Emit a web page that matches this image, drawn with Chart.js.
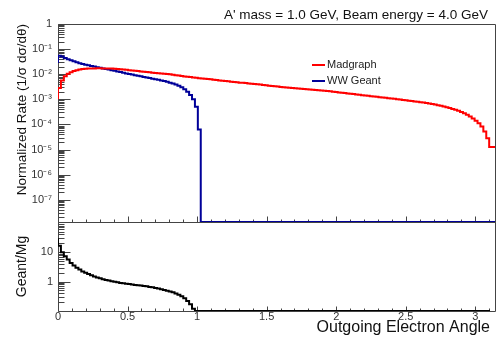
<!DOCTYPE html>
<html>
<head>
<meta charset="utf-8">
<script src="https://cdn.jsdelivr.net/npm/chart.js@4/dist/chart.umd.min.js"></script>
<style>
html,body{margin:0;padding:0;background:#fff;}
#wrap{position:relative;width:501px;height:339px;overflow:hidden;background:#fff;}
#c1{position:absolute;left:0;top:0;}
#c2{position:absolute;left:0;top:212px;}
</style>
</head>
<body>
<div id="wrap">
<canvas id="c1" width="501" height="226" style="width:501px;height:226px"></canvas>
<canvas id="c2" width="501" height="127" style="width:501px;height:127px"></canvas>
</div>
<script>
// ---------------- data ----------------
const titleText = "A' mass = 1.0 GeV, Beam energy = 4.0 GeV";
const seriesLabels = ['Madgraph', 'WW Geant'];
const angleMax = Math.PI;   // histogram range 0..pi, 150 bins

const madgraph = [
  1.00e-3, 2.82e-3, 5.62e-3, 8.32e-3, 1.05e-2, 1.20e-2, 1.35e-2, 1.45e-2, 1.55e-2, 1.62e-2,
  1.66e-2, 1.68e-2, 1.70e-2, 1.70e-2, 1.72e-2, 1.72e-2, 1.70e-2, 1.70e-2, 1.70e-2, 1.68e-2,
  1.64e-2, 1.62e-2, 1.58e-2, 1.55e-2, 1.50e-2, 1.45e-2, 1.41e-2, 1.36e-2, 1.33e-2, 1.29e-2,
  1.26e-2, 1.23e-2, 1.19e-2, 1.15e-2, 1.12e-2, 1.10e-2, 1.07e-2, 1.05e-2, 1.02e-2, 1.00e-2,
  9.55e-3, 9.12e-3, 8.81e-3, 8.51e-3, 8.13e-3, 7.94e-3, 7.67e-3, 7.41e-3, 7.16e-3, 6.92e-3,
  6.76e-3, 6.61e-3, 6.46e-3, 6.24e-3, 6.03e-3, 5.82e-3, 5.62e-3, 5.50e-3, 5.31e-3, 5.19e-3,
  5.01e-3, 4.90e-3, 4.79e-3, 4.62e-3, 4.52e-3, 4.42e-3, 4.27e-3, 4.17e-3, 4.07e-3, 3.94e-3,
  3.85e-3, 3.72e-3, 3.63e-3, 3.51e-3, 3.43e-3, 3.31e-3, 3.24e-3, 3.13e-3, 3.05e-3, 2.95e-3,
  2.88e-3, 2.82e-3, 2.75e-3, 2.69e-3, 2.63e-3, 2.57e-3, 2.51e-3, 2.45e-3, 2.40e-3, 2.34e-3,
  2.29e-3, 2.24e-3, 2.19e-3, 2.14e-3, 2.09e-3, 2.02e-3, 1.95e-3, 1.88e-3, 1.82e-3, 1.78e-3,
  1.72e-3, 1.66e-3, 1.62e-3, 1.57e-3, 1.51e-3, 1.46e-3, 1.41e-3, 1.38e-3, 1.33e-3, 1.29e-3,
  1.26e-3, 1.22e-3, 1.17e-3, 1.15e-3, 1.11e-3, 1.07e-3, 1.05e-3, 1.01e-3, 9.77e-4, 9.44e-4,
  9.12e-4, 8.81e-4, 8.51e-4, 8.22e-4, 7.94e-4, 7.67e-4, 7.41e-4, 7.08e-4, 6.76e-4, 6.46e-4,
  6.17e-4, 5.82e-4, 5.50e-4, 5.13e-4, 4.79e-4, 4.47e-4, 4.12e-4, 3.80e-4, 3.47e-4, 3.16e-4,
  2.82e-4, 2.45e-4, 2.09e-4, 1.74e-4, 1.41e-4, 1.12e-4, 8.32e-5, 5.25e-5, 2.82e-5, 1.26e-5
];

const wwGeant = [
  2.82e-2, 5.50e-2, 5.13e-2, 4.47e-2, 3.98e-2, 3.63e-2, 3.31e-2, 3.02e-2, 2.75e-2, 2.57e-2,
  2.40e-2, 2.26e-2, 2.14e-2, 2.02e-2, 1.91e-2, 1.80e-2, 1.70e-2, 1.62e-2, 1.53e-2, 1.45e-2,
  1.36e-2, 1.29e-2, 1.22e-2, 1.15e-2, 1.08e-2, 1.02e-2, 9.66e-3, 9.12e-3, 8.61e-3, 8.22e-3,
  7.76e-3, 7.41e-3, 7.00e-3, 6.61e-3, 6.31e-3, 5.96e-3, 5.62e-3, 5.31e-3, 5.01e-3, 4.62e-3,
  4.27e-3, 3.89e-3, 3.47e-3, 3.02e-3, 2.51e-3, 2.00e-3, 1.48e-3, 1.00e-3, 5.01e-4, 6.31e-5,
  0, 0, 0, 0, 0, 0, 0, 0, 0, 0,
  0, 0, 0, 0, 0, 0, 0, 0, 0, 0,
  0, 0, 0, 0, 0, 0, 0, 0, 0, 0,
  0, 0, 0, 0, 0, 0, 0, 0, 0, 0,
  0, 0, 0, 0, 0, 0, 0, 0, 0, 0,
  0, 0, 0, 0, 0, 0, 0, 0, 0, 0,
  0, 0, 0, 0, 0, 0, 0, 0, 0, 0,
  0, 0, 0, 0, 0, 0, 0, 0, 0, 0,
  0, 0, 0, 0, 0, 0, 0, 0, 0, 0,
  0, 0, 0, 0, 0, 0, 0, 0, 0, 0
];

const geantOverMg = [
  30, 16.5, 10, 7.2, 5.6, 4.3, 3.5, 2.95, 2.55, 2.2,
  2.0, 1.8, 1.63, 1.5, 1.38, 1.3, 1.2, 1.14, 1.08, 1.02,
  0.98, 0.94, 0.9, 0.87, 0.84, 0.82, 0.8, 0.77, 0.75, 0.73,
  0.71, 0.69, 0.66, 0.64, 0.61, 0.58, 0.55, 0.52, 0.49, 0.46,
  0.43, 0.39, 0.36, 0.32, 0.27, 0.22, 0.17, 0.12, 0.07, 0.01,
  0, 0, 0, 0, 0, 0, 0, 0, 0, 0,
  0, 0, 0, 0, 0, 0, 0, 0, 0, 0,
  0, 0, 0, 0, 0, 0, 0, 0, 0, 0,
  0, 0, 0, 0, 0, 0, 0, 0, 0, 0,
  0, 0, 0, 0, 0, 0, 0, 0, 0, 0,
  0, 0, 0, 0, 0, 0, 0, 0, 0, 0,
  0, 0, 0, 0, 0, 0, 0, 0, 0, 0,
  0, 0, 0, 0, 0, 0, 0, 0, 0, 0,
  0, 0, 0, 0, 0, 0, 0, 0, 0, 0,
  0, 0, 0, 0, 0, 0, 0, 0, 0, 0
];

const xTickValues = [0, 0.5, 1, 1.5, 2, 2.5, 3];
const xTickLabels = ['0', '0.5', '1', '1.5', '2', '2.5', '3'];
const xMinorValues = [0.1,0.2,0.3,0.4,0.6,0.7,0.8,0.9,1.1,1.2,1.3,1.4,1.6,1.7,1.8,1.9,2.1,2.2,2.3,2.4,2.6,2.7,2.8,2.9,3.1];

const yTopTickValues = [1e-7, 1e-6, 1e-5, 1e-4, 1e-3, 1e-2, 1e-1, 1];
const yTopTickLabels = ['10\u207B\u2077', '10\u207B\u2076', '10\u207B\u2075', '10\u207B\u2074', '10\u207B\u00B3', '10\u207B\u00B2', '10\u207B\u00B9', '1'];
const yTopMin = 1.3e-8, yTopMax = 1;

const yBotTickValues = [1, 10];
const yBotTickLabels = ['1', '10'];
const yBotMin = 0.1, yBotMax = 106;

// ---------------- helpers ----------------
const FONT = '"Liberation Sans", Arial, Helvetica, sans-serif';
Chart.defaults.font.family = FONT;
Chart.defaults.color = '#333';

function histPoints(values, floor) {
  const w = angleMax / values.length;
  const pts = values.map((v, i) => ({ x: i * w, y: Math.max(v, floor) }));
  pts.push({ x: angleMax, y: Math.max(values[values.length - 1], floor) });
  return pts;
}
function logMinors(min, max) {
  const out = [];
  for (let e = -9; e <= 3; e++) {
    for (let m = 2; m <= 9; m++) {
      const v = m * Math.pow(10, e);
      if (v >= min && v <= max) out.push(v);
    }
  }
  return out;
}

const frameTicks = {
  id: 'frameTicks',
  beforeDatasetsDraw(chart, args, o) {
    const { ctx, chartArea: a } = chart;
    const xs = chart.scales.x, ys = chart.scales.y;
    const L = Math.floor(a.left) + 0.5, R = Math.floor(a.right) + 0.5;
    const T = Math.floor(a.top) + 0.5, B = Math.floor(a.bottom) + 0.5;
    ctx.save();
    ctx.strokeStyle = o.color;
    ctx.lineWidth = 1;
    ctx.beginPath();
    ctx.moveTo(L, T); ctx.lineTo(R, T); ctx.lineTo(R, B); ctx.lineTo(L, B); ctx.closePath();
    const yTick = (v, len) => { const p = Math.round(ys.getPixelForValue(v)) + 0.5; ctx.moveTo(L, p); ctx.lineTo(L + len, p); };
    const xTick = (v, len) => { const p = Math.round(xs.getPixelForValue(v)) + 0.5; ctx.moveTo(p, B); ctx.lineTo(p, B - len); };
    o.yMajor.forEach(v => yTick(v, o.yMajorLen));
    o.yMinor.forEach(v => yTick(v, o.yMinorLen));
    o.xMajor.forEach(v => xTick(v, o.xMajorLen));
    o.xMinor.forEach(v => xTick(v, o.xMinorLen));
    ctx.stroke();
    ctx.restore();
  }
};

const rootLegend = {
  id: 'rootLegend',
  afterDatasetsDraw(chart, args, o) {
    const ctx = chart.ctx;
    ctx.save();
    chart.data.datasets.forEach((ds, i) => {
      const y = o.y + i * o.gap;
      ctx.strokeStyle = ds.borderColor;
      ctx.lineWidth = 2;
      ctx.beginPath(); ctx.moveTo(o.x, y); ctx.lineTo(o.x + o.len, y); ctx.stroke();
      ctx.fillStyle = '#222';
      ctx.font = '11px ' + FONT;
      ctx.textBaseline = 'middle';
      ctx.textAlign = 'left';
      ctx.fillText(ds.label, o.x + o.len + 2, y);
    });
    ctx.restore();
  }
};

const shiftTitles = {
  id: 'shiftTitles',
  afterLayout(chart, args, o) {
    if (o.title && chart.titleBlock) chart.titleBlock.right -= o.title;
    if (o.xTitle && chart.scales.x) chart.scales.x.right -= o.xTitle;
  }
};

// ---------------- upper chart ----------------
new Chart(document.getElementById('c1'), {
  type: 'line',
  data: {
    datasets: [
      { label: seriesLabels[0], data: histPoints(madgraph, yTopMin), borderColor: '#ff0000', borderWidth: 2, stepped: 'after', pointRadius: 0, fill: false },
      { label: seriesLabels[1], data: histPoints(wwGeant, yTopMin), borderColor: '#000099', borderWidth: 2, stepped: 'after', pointRadius: 0, fill: false }
    ]
  },
  options: {
    responsive: false, animation: false, devicePixelRatio: 1,
    layout: { padding: { left: 0, right: 6, top: 0, bottom: 4 } },
    scales: {
      x: { type: 'linear', min: 0, max: angleMax, bounds: 'data', display: false },
      y: {
        type: 'logarithmic', min: yTopMin, max: yTopMax, bounds: 'data',
        grid: { display: false, drawTicks: false }, border: { display: false },
        afterBuildTicks: s => { s.ticks = yTopTickValues.map(v => ({ value: v })); },
        afterFit: s => { s.width = 58; s.paddingTop = 0; s.paddingBottom = 0; },
        ticks: {
          autoSkip: false, padding: 6, color: '#333', font: { size: 11 },
          callback: v => yTopTickLabels[yTopTickValues.indexOf(v)]
        },
        title: { display: true, text: 'Normalized Rate (1/\u03C3 d\u03C3/d\u03B8)', align: 'end', color: '#111', font: { size: 13.5 }, padding: { top: 14, bottom: 0 } }
      }
    },
    plugins: {
      legend: { display: false },
      tooltip: { enabled: false },
      title: { display: true, text: titleText, align: 'end', color: '#111', font: { size: 13.5, weight: 'normal' }, padding: { top: 7, bottom: 0.8 } },
      frameTicks: { color: '#444', yMajor: yTopTickValues.concat([1]), yMinor: logMinors(yTopMin, yTopMax), yMajorLen: 12, yMinorLen: 6, xMajor: xTickValues, xMinor: xMinorValues, xMajorLen: 6, xMinorLen: 3 },
      rootLegend: { x: 312, y: 65, gap: 16, len: 13 },
      shiftTitles: { title: 7 }
    }
  },
  plugins: [frameTicks, rootLegend, shiftTitles]
});

// ---------------- lower (ratio) chart ----------------
new Chart(document.getElementById('c2'), {
  type: 'line',
  data: {
    datasets: [
      { label: 'Geant/Mg', data: histPoints(geantOverMg, yBotMin), borderColor: '#000000', borderWidth: 2, stepped: 'after', pointRadius: 0, fill: false }
    ]
  },
  options: {
    responsive: false, animation: false, devicePixelRatio: 1,
    layout: { padding: { left: 0, right: 6, top: 10, bottom: 0 } },
    scales: {
      x: {
        type: 'linear', min: 0, max: angleMax, bounds: 'data',
        grid: { display: false, drawTicks: false }, border: { display: false },
        afterBuildTicks: s => { s.ticks = xTickValues.map(v => ({ value: v })); },
        afterFit: s => { s.height = 28; s.paddingLeft = 0; s.paddingRight = 0; },
        ticks: {
          autoSkip: false, maxRotation: 0, minRotation: 0, padding: -1, color: '#333', font: { size: 11 },
          callback: v => xTickLabels[xTickValues.indexOf(v)]
        },
        title: { display: true, text: 'Outgoing Electron Angle', align: 'end', color: '#111', font: { size: 16 }, padding: { top: 0, bottom: 2 } }
      },
      y: {
        type: 'logarithmic', min: yBotMin, max: yBotMax, bounds: 'data',
        grid: { display: false, drawTicks: false }, border: { display: false },
        afterBuildTicks: s => { s.ticks = yBotTickValues.map(v => ({ value: v })); },
        afterFit: s => { s.width = 58; s.paddingTop = 0; s.paddingBottom = 0; },
        ticks: {
          autoSkip: false, padding: 5, color: '#333', font: { size: 11 },
          callback: v => yBotTickLabels[yBotTickValues.indexOf(v)]
        },
        title: { display: true, text: 'Geant/Mg', align: 'center', color: '#111', font: { size: 14 }, padding: { top: 14, bottom: 0 } }
      }
    },
    plugins: {
      legend: { display: false },
      tooltip: { enabled: false },
      frameTicks: { color: '#444', yMajor: yBotTickValues, yMinor: logMinors(yBotMin, yBotMax), yMajorLen: 12, yMinorLen: 6, xMajor: xTickValues, xMinor: xMinorValues, xMajorLen: 5, xMinorLen: 3 },
      shiftTitles: { xTitle: 5 }
    }
  },
  plugins: [frameTicks, shiftTitles]
});
</script>
</body>
</html>
